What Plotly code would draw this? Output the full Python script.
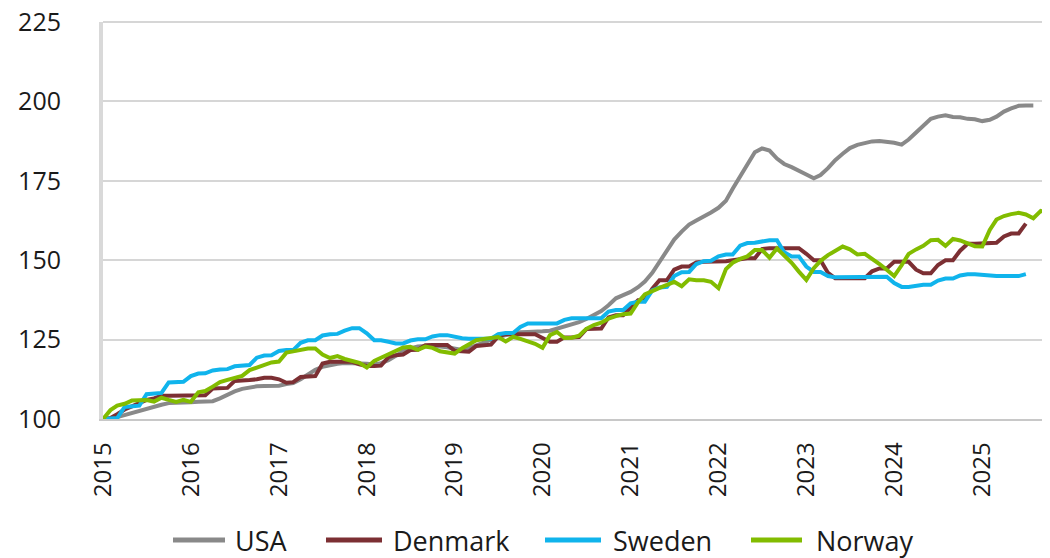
import pandas as pd
import plotly.graph_objects as go

months = pd.date_range("2015-01-01", periods=130, freq="MS")

usa = [100.0, 100.0, 100.6, 101.3, 101.9, 102.6, 103.3, 103.9, 104.5, 105.0, 105.2, 105.3,
       105.3, 105.4, 105.5, 105.6, 106.5, 107.8, 108.7, 109.5, 110.0, 110.3, 110.4, 110.4,
       110.5, 111.0, 111.3, 112.5, 114.0, 115.5, 116.4, 117.0, 117.4, 117.6, 117.6, 117.6,
       117.4, 117.2, 117.6, 118.5, 120.0, 121.3, 122.2, 122.8, 123.0, 123.0, 122.8, 122.6,
       122.0, 121.7, 122.3, 123.2, 124.2, 125.2, 125.8, 126.4, 126.9, 127.3, 127.4, 127.4,
       127.6, 127.8, 128.4, 129.0, 129.7, 130.5, 131.5, 132.7, 134.0, 135.8, 138.0, 139.0,
       140.0, 141.5, 143.3, 146.0, 149.5, 153.5, 156.5, 159.0, 161.2, 162.5, 163.7, 165.0,
       166.5, 168.7, 172.5, 176.5, 180.5, 184.0, 185.2, 184.5, 182.0, 180.3, 179.3, 178.3,
       177.0, 175.8, 176.8, 179.0, 181.5, 183.5, 185.3, 186.3, 187.0, 187.4, 187.5, 187.4,
       187.0, 186.4, 188.0, 190.2, 192.5, 194.5, 195.2, 195.6, 195.1, 195.0, 194.5, 194.4,
       193.8, 194.2, 195.2, 196.8, 197.8, 198.6, 198.7, 198.7]

denmark = [100.0, 100.3, 101.5, 103.0, 104.0, 105.0, 106.0, 106.5, 107.3, 107.3, 107.3, 107.3,
           107.3, 107.5, 107.5, 109.6, 109.6, 109.8, 112.0, 112.3, 112.3, 112.5, 113.0, 113.0,
           112.5, 111.4, 111.6, 113.2, 113.5, 113.5, 117.5, 118.0, 118.0, 118.0, 118.0, 117.2,
           116.7, 116.7, 116.8, 119.5, 120.1, 120.3, 121.7, 121.8, 123.2, 123.3, 123.3, 123.3,
           121.5, 121.2, 121.2, 123.0, 123.3, 123.4, 126.0, 126.7, 126.7, 126.7, 126.7, 126.7,
           125.5, 124.3, 124.3, 125.7, 125.7, 125.8, 128.3, 128.5, 128.5, 132.0, 132.7, 132.7,
           135.0, 137.4, 137.4, 141.0, 143.7, 143.7, 147.0, 148.0, 148.0, 149.3, 149.5, 149.5,
           149.6, 149.7, 150.0, 150.4, 150.6, 150.6, 153.5, 153.8, 153.8, 153.8, 153.8, 153.8,
           152.0, 150.0, 150.0, 146.0, 144.3, 144.3, 144.3, 144.3, 144.3, 146.5, 147.4, 147.4,
           149.5, 149.5, 149.5, 147.0, 145.9, 145.9, 148.5, 150.0, 150.0, 153.0, 155.2, 155.2,
           155.2, 155.2, 155.5, 157.5, 158.4, 158.4, 161.5]

sweden = [100.0, 100.0, 100.3, 103.8, 104.0, 104.2, 107.8, 108.1, 108.2, 111.5, 111.7, 111.7,
          113.5, 114.3, 114.4, 115.3, 115.6, 115.7, 116.6, 116.9, 117.0, 119.3, 120.0, 120.1,
          121.4, 121.7, 121.7, 124.0, 124.8, 124.8, 126.3, 126.7, 126.8, 127.8, 128.6, 128.6,
          127.0, 124.8, 124.8, 124.3, 123.8, 123.8, 124.7, 125.1, 125.1, 126.0, 126.4, 126.4,
          125.8, 125.4, 125.3, 125.3, 125.3, 125.3, 126.7, 127.1, 127.1, 129.0, 130.1, 130.1,
          130.1, 130.1, 130.1, 131.2, 131.7, 131.7, 131.7, 131.7, 131.7, 133.8, 134.3, 134.3,
          136.4, 136.9, 136.9, 140.5, 141.4, 141.6, 145.0, 146.2, 146.3, 148.8, 149.7, 149.8,
          151.2, 151.8, 151.8, 154.6, 155.4, 155.5, 156.0, 156.3, 156.3, 152.5, 151.2, 151.2,
          148.0, 146.3, 146.3, 145.0, 144.6, 144.6, 144.8, 144.8, 144.8, 144.8, 144.8, 144.8,
          142.8, 141.6, 141.6, 142.0, 142.3, 142.3, 143.6, 144.2, 144.2, 145.2, 145.6, 145.6,
          145.3, 145.0, 145.0, 145.0, 145.0, 145.0, 145.6]

norway = [100.0, 102.8, 104.2, 104.8, 105.8, 106.0, 106.0, 105.5, 106.7, 106.0, 105.4, 106.0,
          105.4, 108.4, 108.8, 110.2, 111.6, 112.3, 113.0, 113.6, 115.4, 116.3, 117.0, 117.8,
          118.1, 120.9, 121.3, 121.8, 122.2, 122.2, 120.3, 119.2, 119.8, 118.9, 118.3, 117.7,
          116.2, 118.3, 119.3, 120.4, 121.3, 122.5, 122.7, 121.8, 122.8, 122.4, 121.3, 120.9,
          120.6, 122.3, 123.6, 124.8, 125.2, 125.6, 125.8, 124.4, 125.9, 125.2, 124.3, 123.7,
          122.4, 126.4, 127.4, 125.5, 125.6, 126.2, 128.4, 129.6, 130.3, 131.6, 132.4, 133.0,
          133.2, 136.8, 139.2, 140.4, 141.3, 142.2, 143.2, 141.8, 144.0, 143.7, 143.7, 143.2,
          141.2, 147.2, 149.2, 150.4, 151.2, 153.2, 153.2, 150.8, 153.7, 151.5, 149.2, 146.4,
          143.8, 147.5, 149.8, 151.6, 153.0, 154.3, 153.4, 151.8, 152.0, 150.5, 148.8, 147.0,
          145.0, 148.4, 152.0, 153.4, 154.5, 156.3, 156.4, 154.5, 156.7, 156.2, 155.3, 154.4,
          154.3, 159.5, 162.8, 163.9, 164.5, 164.9, 164.4, 163.2, 165.5, 165.0]

year_labels = [str(y) for y in range(2015, 2026)]
y_ticks = [100, 125, 150, 175, 200, 225]

series = [("USA", usa, "#898989"),
          ("Denmark", denmark, "#7c2f33"),
          ("Sweden", sweden, "#10b4ec"),
          ("Norway", norway, "#82bc00")]

FONT = "Open Sans"
OFF = 8  # page body margin offset
W, H = 1050 - OFF, 558 - OFF
L, R, T = 103 - OFF, 2, 22 - OFF
ph = 397
B = H - T - ph
pw = W - L - R

fig = go.Figure()
for name, vals, col in series:
    fig.add_trace(go.Scatter(x=months[:len(vals)], y=vals, name=name, mode="lines",
                             line=dict(color=col, width=4), showlegend=False))

# top gridline at the range edge (plotly omits the grid line there)
fig.add_shape(type="line", xref="paper", yref="paper", x0=0, x1=1, y0=1, y1=1,
              line=dict(color="#d6d6d6", width=2), layer="above")

# custom legend (line sample + label), positioned in page pixels below the plot
leg_y_px = 540
leg_items = [(173, 225, 234), (326, 382, 392), (545, 601, 612), (751, 802, 815)]
yy = (T + ph - (leg_y_px - OFF)) / ph
for (name, vals, col), (x0, x1, xt) in zip(series, leg_items):
    fig.add_shape(type="line", xref="paper", yref="paper",
                  x0=(x0 - OFF - L) / pw, x1=(x1 - OFF - L) / pw, y0=yy, y1=yy,
                  line=dict(color=col, width=5))
    fig.add_annotation(xref="paper", yref="paper", x=(xt - OFF - L) / pw, y=yy,
                       text=name, showarrow=False, xanchor="left", yanchor="middle",
                       borderpad=0,
                       font=dict(size=27, family=FONT, color="#1a1a1a"))

fig.update_layout(
    width=W, height=H,
    margin=dict(l=L, r=R, t=T, b=B),
    paper_bgcolor="white", plot_bgcolor="white",
    font=dict(family=FONT, color="#1a1a1a", size=24),
    showlegend=False,
)
fig.update_xaxes(
    range=[months[0], months[129]],
    tickvals=[pd.Timestamp(f"{y}-01-01") for y in range(2015, 2026)],
    ticktext=year_labels, tickangle=-90, automargin=False,
    ticklabeloverflow="allow",
    showgrid=False, zeroline=False,
    showline=True, linecolor="#c8c8c8", linewidth=1.5,
    tickfont=dict(size=24), ticks="", ticklabelstandoff=12,
)
fig.update_yaxes(
    range=[100, 225], tickvals=y_ticks, automargin=False,
    ticklabeloverflow="allow",
    showgrid=True, gridcolor="#d6d6d6", gridwidth=1.5,
    zeroline=False, showline=True, linecolor="#d9d9d9", linewidth=4,
    tickfont=dict(size=25), ticks="", ticklabelstandoff=33,
)
fig.write_html("out.html")
